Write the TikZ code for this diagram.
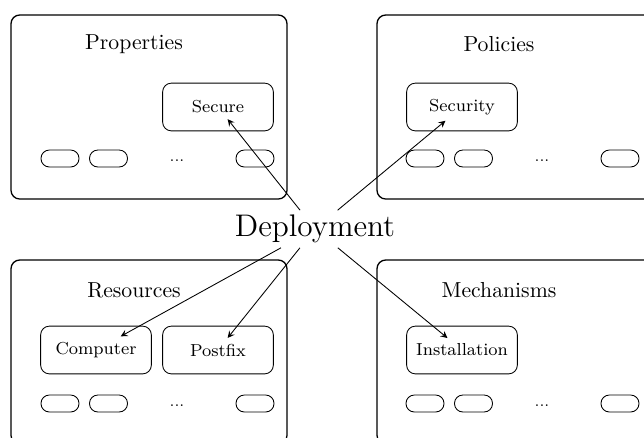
\documentclass[tikz,border=0pt]{standalone}
\usepackage{amsmath,amssymb}
\usepackage{tikz}
\usetikzlibrary{calc,shapes,arrows}
\tikzset{
   group/.style={draw, rounded corners=4pt, semithick},
   inbox/.style={draw, rounded corners=4pt, minimum width=51pt, minimum height=22pt},
   pill/.style={draw, rounded corners=3.8pt, minimum width=17.5pt, minimum height=7.8pt, inner sep=0pt},
   itemtext/.style={font=\footnotesize, inner sep=2.5pt},
   title/.style={font=\normalsize},
   dots/.style={font=\scriptsize, inner sep=0pt, anchor=base}
}
\begin{document}
\begin{tikzpicture}[x=0.4608pt,y=-0.4608pt,>=stealth]
\useasboundingbox (0,0) rectangle (644,437);
\clip (0,0) rectangle (644,437);

% the four groups
\draw[group] (11,15) rectangle (287,199);
\draw[group] (377,15) rectangle (653,199);
\draw[group] (11,260) rectangle (287,444);
\draw[group] (377,260) rectangle (653,444);

\node[title] (props) at (134,44) {Properties};
\node[title] (pols) at (499,44) {Policies};
\node[title] (res) at (134,290) {Resources};
\node[title] (mech) at (499,290) {Mechanisms};

% boxes inside
\node[inbox] (securebox) at (218,107) {};
\node[itemtext] (secure) at (securebox) {Secure};
\node[inbox] (securitybox) at (462,107) {};
\node[itemtext] (security) at (securitybox) {Security};
\node[inbox] (computerbox) at (96,350) {};
\node[itemtext] (computer) at (computerbox) {Computer};
\node[inbox] (postfixbox) at (218,350) {};
\node[itemtext] (postfix) at (postfixbox) {Postfix};
\node[inbox] (installbox) at (462,350) {};
\node[itemtext] (install) at (installbox) {Installation};

% pills
\foreach \dx/\dy in {0/0, 365/0, 0/245, 365/245} {
  \node[pill] at (60+\dx,158.5+\dy) {};
  \node[pill] at (108.5+\dx,158.5+\dy) {};
  \node[dots] at (177+\dx,161+\dy) {...};
  \node[pill] at (255+\dx,158.5+\dy) {};
}

\node[font=\Large, inner sep=2pt] (dep) at (315,229) {Deployment};

\path[->]
(dep) edge (secure)
      edge (security)
      edge (computer)
      edge (postfix)
      edge (install)
      ;

\end{tikzpicture}
\end{document}
